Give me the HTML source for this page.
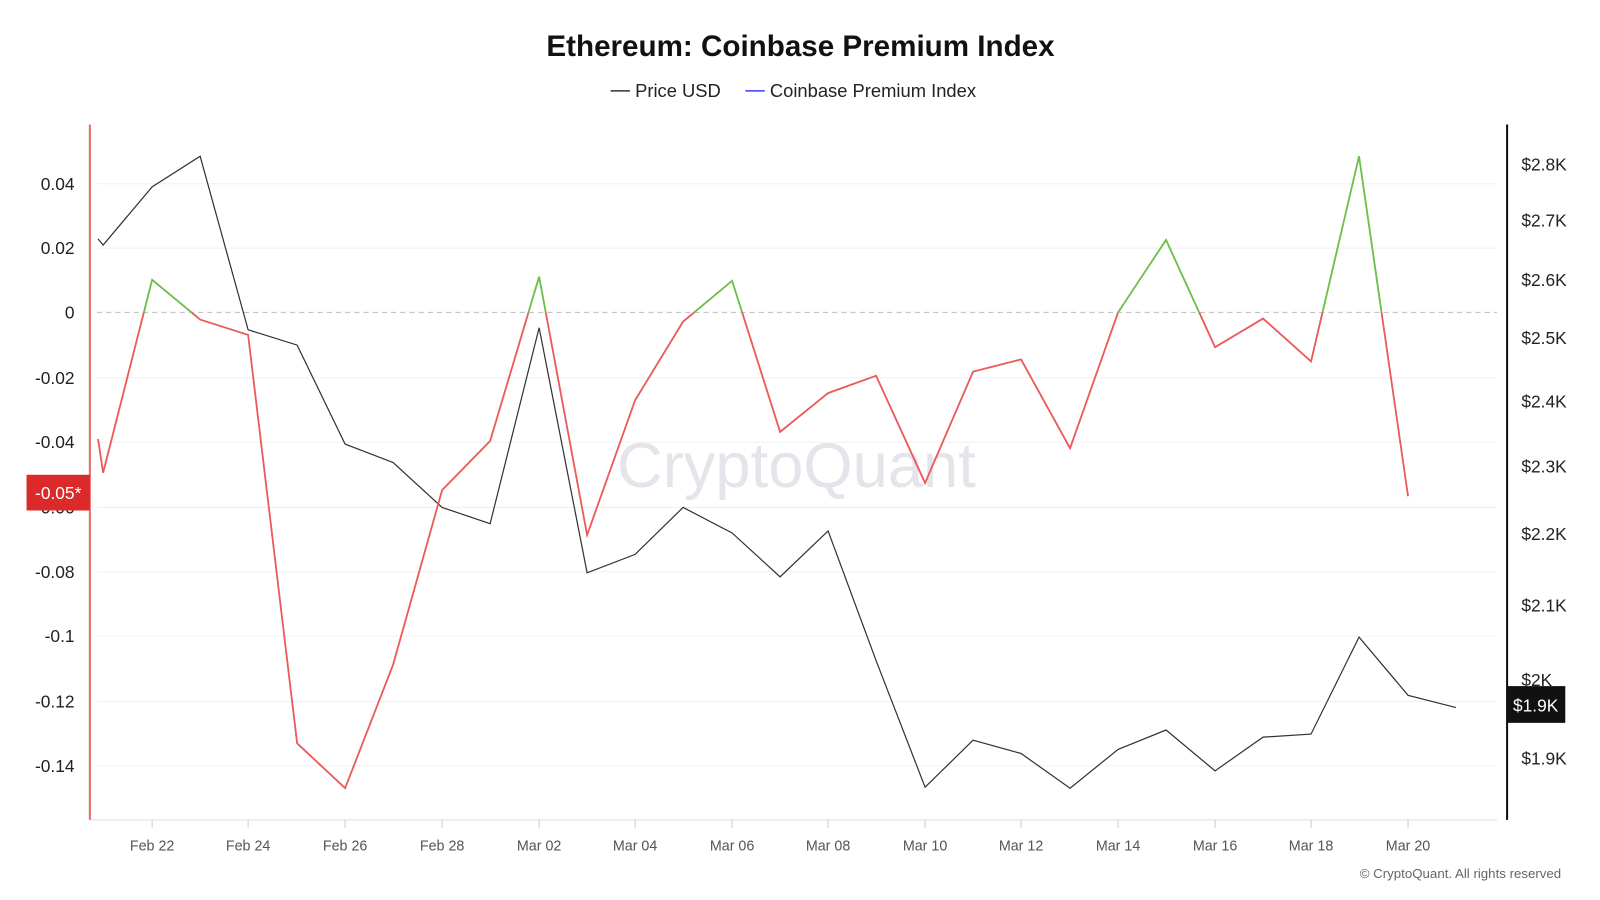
<!DOCTYPE html>
<html><head><meta charset="utf-8"><style>
html,body{margin:0;padding:0;background:#fff;}
svg{display:block;font-family:"Liberation Sans",sans-serif;}
</style></head><body>
<svg width="1600" height="900" viewBox="0 0 1567 881.5" preserveAspectRatio="none">
<defs>
<clipPath id="up"><rect x="0" y="0" width="1560" height="306"/></clipPath>
<clipPath id="dn"><rect x="0" y="306" width="1560" height="600"/></clipPath>
</defs>
<text x="784" y="55" text-anchor="middle" font-size="29" font-weight="bold" fill="#111">Ethereum: Coinbase Premium Index</text>
<line x1="598" y1="89" x2="617" y2="89" stroke="#333" stroke-width="1.5"/>
<text x="622" y="95" font-size="18" fill="#222">Price USD</text>
<line x1="730" y1="89" x2="749" y2="89" stroke="#3b3bff" stroke-width="1.5"/>
<text x="754" y="95" font-size="18" fill="#222">Coinbase Premium Index</text>
<g stroke="#f0f0f0" stroke-width="1">
<line x1="95" y1="180" x2="1466" y2="180"/><line x1="95" y1="243" x2="1466" y2="243"/>
<line x1="95" y1="370" x2="1466" y2="370"/><line x1="95" y1="433" x2="1466" y2="433"/>
<line x1="95" y1="497" x2="1466" y2="497"/><line x1="95" y1="560" x2="1466" y2="560"/>
<line x1="95" y1="623" x2="1466" y2="623"/><line x1="95" y1="687" x2="1466" y2="687"/>
<line x1="95" y1="750" x2="1466" y2="750"/>
</g>
<line x1="95" y1="306" x2="1466" y2="306" stroke="#bbb" stroke-dasharray="5,4"/>
<text x="780" y="477" text-anchor="middle" font-size="62" fill="#e4e4ea">CryptoQuant</text>
<g font-size="17" fill="#222" text-anchor="end">
<text x="73" y="186">0.04</text><text x="73" y="249">0.02</text><text x="73" y="312">0</text>
<text x="73" y="376">-0.02</text><text x="73" y="439">-0.04</text><text x="73" y="503">-0.06</text>
<text x="73" y="566">-0.08</text><text x="73" y="629">-0.1</text><text x="73" y="693">-0.12</text>
<text x="73" y="756">-0.14</text>
</g>
<g font-size="17" fill="#222">
<text x="1490" y="167">$2.8K</text><text x="1490" y="222">$2.7K</text><text x="1490" y="280">$2.6K</text>
<text x="1490" y="337">$2.5K</text><text x="1490" y="399">$2.4K</text><text x="1490" y="463">$2.3K</text>
<text x="1490" y="529">$2.2K</text><text x="1490" y="599">$2.1K</text><text x="1490" y="672">$2K</text>
<text x="1490" y="749">$1.9K</text>
</g>
<line x1="88" y1="122" x2="88" y2="803" stroke="#e86a6a" stroke-width="2"/>
<line x1="1476" y1="122" x2="1476" y2="803" stroke="#111" stroke-width="2"/>
<line x1="88" y1="803" x2="1466" y2="803" stroke="#ddd"/>
<g stroke="#ccc"><line x1="149" y1="803" x2="149" y2="811"/><line x1="243" y1="803" x2="243" y2="811"/><line x1="338" y1="803" x2="338" y2="811"/><line x1="433" y1="803" x2="433" y2="811"/><line x1="528" y1="803" x2="528" y2="811"/><line x1="622" y1="803" x2="622" y2="811"/><line x1="717" y1="803" x2="717" y2="811"/><line x1="811" y1="803" x2="811" y2="811"/><line x1="906" y1="803" x2="906" y2="811"/><line x1="1000" y1="803" x2="1000" y2="811"/><line x1="1095" y1="803" x2="1095" y2="811"/><line x1="1190" y1="803" x2="1190" y2="811"/><line x1="1284" y1="803" x2="1284" y2="811"/><line x1="1379" y1="803" x2="1379" y2="811"/></g>
<g font-size="14" fill="#555" text-anchor="middle">
<text x="149" y="833">Feb 22</text><text x="243" y="833">Feb 24</text><text x="338" y="833">Feb 26</text>
<text x="433" y="833">Feb 28</text><text x="528" y="833">Mar 02</text><text x="622" y="833">Mar 04</text>
<text x="717" y="833">Mar 06</text><text x="811" y="833">Mar 08</text><text x="906" y="833">Mar 10</text>
<text x="1000" y="833">Mar 12</text><text x="1095" y="833">Mar 14</text><text x="1190" y="833">Mar 16</text>
<text x="1284" y="833">Mar 18</text><text x="1379" y="833">Mar 20</text>
</g>
<polyline fill="none" stroke="#333" stroke-width="1.2" points="96,234 101,240 149,183 196,153 243,323 291,338 338,435 385,453 433,497 480,513 528,321 575,561 622,543 669,497 717,522 764,565 811,520 858,647 906,771 953,725 1000,738 1048,772 1095,734 1142,715 1190,755 1237,722 1284,719 1331,624 1379,681 1426,693"/>
<g fill="none" stroke-width="1.8">
<polyline clip-path="url(#dn)" stroke="#ea5b5b" points="96,430 101,463 149,274 196,313 243,328 291,728 338,772 385,651 433,480 480,432 528,271 575,524 622,392 669,315 717,275 764,423 811,385 858,368 906,473 953,364 1000,352 1048,439 1095,306 1142,235 1190,340 1237,312 1284,354 1331,153 1379,486"/>
<polyline clip-path="url(#up)" stroke="#6cc04a" points="96,430 101,463 149,274 196,313 243,328 291,728 338,772 385,651 433,480 480,432 528,271 575,524 622,392 669,315 717,275 764,423 811,385 858,368 906,473 953,364 1000,352 1048,439 1095,306 1142,235 1190,340 1237,312 1284,354 1331,153 1379,486"/>
</g>
<rect x="26" y="465" width="62" height="35" fill="#dc2a2a"/>
<text x="57" y="489" text-anchor="middle" font-size="17" fill="#fff">-0.05*</text>
<rect x="1476" y="672" width="57" height="36" fill="#111"/>
<text x="1504" y="697" text-anchor="middle" font-size="17" fill="#fff">$1.9K</text>
<text x="1529" y="860" text-anchor="end" font-size="13" fill="#666">© CryptoQuant. All rights reserved</text>
</svg>
</body></html>
